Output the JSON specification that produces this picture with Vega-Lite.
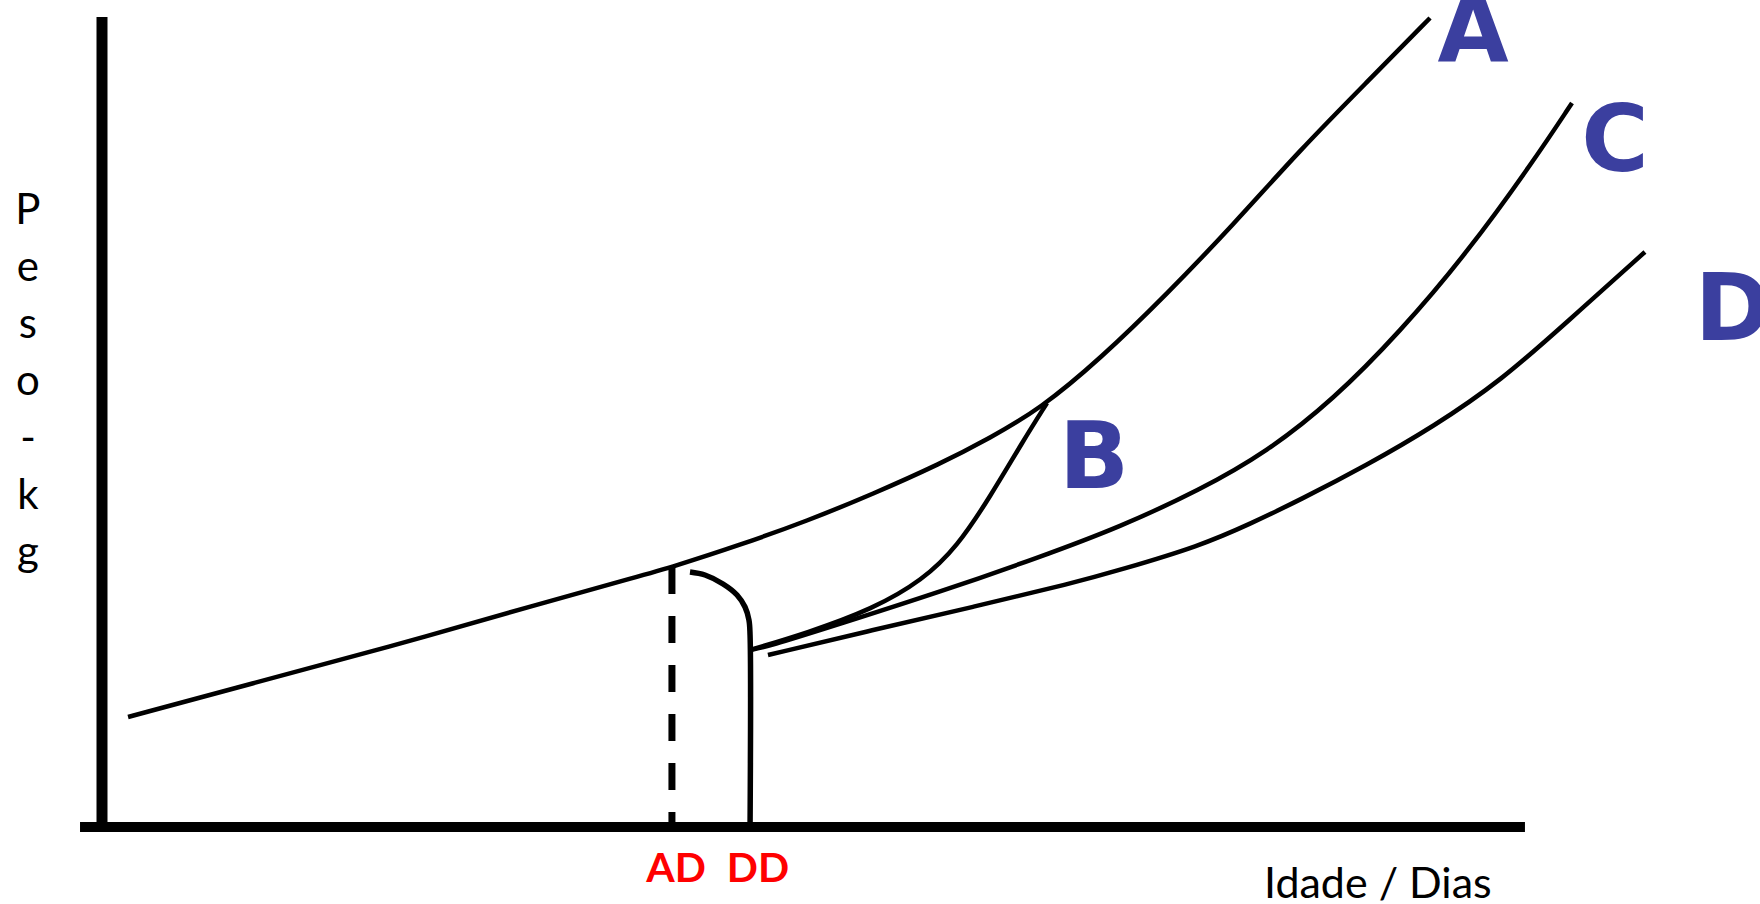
{
  "$schema": "https://vega.github.io/schema/vega-lite/v6.json",
  "width": 1760,
  "height": 904,
  "autosize": {"type": "none"},
  "padding": 0,
  "background": "white",
  "config": {"view": {"stroke": null}},
  "datasets": {
    "curves": [
      {"serie": "A", "i": 1, "idade": 1.86, "peso": 13.75},
      {"serie": "A", "i": 2, "idade": 10.57, "peso": 17.88},
      {"serie": "A", "i": 3, "idade": 20.29, "peso": 22.38},
      {"serie": "A", "i": 4, "idade": 31.21, "peso": 27.88},
      {"serie": "A", "i": 5, "idade": 38.43, "peso": 31.38},
      {"serie": "A", "i": 6, "idade": 40.71, "peso": 32.5},
      {"serie": "A", "i": 7, "idade": 45.57, "peso": 35.25},
      {"serie": "A", "i": 8, "idade": 50.36, "peso": 38.25},
      {"serie": "A", "i": 9, "idade": 55.07, "peso": 41.63},
      {"serie": "A", "i": 10, "idade": 59.86, "peso": 45.38},
      {"serie": "A", "i": 11, "idade": 63.43, "peso": 48.63},
      {"serie": "A", "i": 12, "idade": 67.0, "peso": 52.25},
      {"serie": "A", "i": 13, "idade": 71.29, "peso": 58.5},
      {"serie": "A", "i": 14, "idade": 76.07, "peso": 66.63},
      {"serie": "A", "i": 15, "idade": 80.79, "peso": 75.25},
      {"serie": "A", "i": 16, "idade": 85.57, "peso": 84.63},
      {"serie": "A", "i": 17, "idade": 90.36, "peso": 93.13},
      {"serie": "A", "i": 18, "idade": 94.86, "peso": 101.13},
      {"serie": "B", "i": 1, "idade": 46.29, "peso": 22.13},
      {"serie": "B", "i": 2, "idade": 50.36, "peso": 24.25},
      {"serie": "B", "i": 3, "idade": 55.07, "peso": 27.25},
      {"serie": "B", "i": 4, "idade": 58.64, "peso": 30.88},
      {"serie": "B", "i": 5, "idade": 61.07, "peso": 35.0},
      {"serie": "B", "i": 6, "idade": 63.43, "peso": 41.25},
      {"serie": "B", "i": 7, "idade": 65.79, "peso": 48.25},
      {"serie": "B", "i": 8, "idade": 67.5, "peso": 53.0},
      {"serie": "C", "i": 1, "idade": 46.29, "peso": 22.13},
      {"serie": "C", "i": 2, "idade": 47.5, "peso": 22.5},
      {"serie": "C", "i": 3, "idade": 52.71, "peso": 25.38},
      {"serie": "C", "i": 4, "idade": 59.86, "peso": 29.38},
      {"serie": "C", "i": 5, "idade": 67.0, "peso": 33.75},
      {"serie": "C", "i": 6, "idade": 72.71, "peso": 37.5},
      {"serie": "C", "i": 7, "idade": 78.43, "peso": 42.13},
      {"serie": "C", "i": 8, "idade": 83.21, "peso": 46.88},
      {"serie": "C", "i": 9, "idade": 87.93, "peso": 53.38},
      {"serie": "C", "i": 10, "idade": 92.71, "peso": 61.88},
      {"serie": "C", "i": 11, "idade": 97.5, "peso": 71.75},
      {"serie": "C", "i": 12, "idade": 102.21, "peso": 83.13},
      {"serie": "C", "i": 13, "idade": 105.0, "peso": 90.5},
      {"serie": "D", "i": 1, "idade": 47.57, "peso": 21.5},
      {"serie": "D", "i": 2, "idade": 55.07, "peso": 24.63},
      {"serie": "D", "i": 3, "idade": 62.21, "peso": 27.5},
      {"serie": "D", "i": 4, "idade": 69.36, "peso": 30.5},
      {"serie": "D", "i": 5, "idade": 72.71, "peso": 32.13},
      {"serie": "D", "i": 6, "idade": 78.43, "peso": 35.13},
      {"serie": "D", "i": 7, "idade": 82.0, "peso": 37.88},
      {"serie": "D", "i": 8, "idade": 85.57, "peso": 40.88},
      {"serie": "D", "i": 9, "idade": 90.36, "peso": 45.25},
      {"serie": "D", "i": 10, "idade": 95.07, "peso": 50.0},
      {"serie": "D", "i": 11, "idade": 100.0, "peso": 55.88},
      {"serie": "D", "i": 12, "idade": 104.64, "peso": 63.13},
      {"serie": "D", "i": 13, "idade": 110.21, "peso": 71.88}
    ],
    "dd": [
      {"i": 1, "idade": 42.0, "peso": 31.88},
      {"i": 2, "idade": 43.07, "peso": 31.5},
      {"i": 3, "idade": 44.36, "peso": 30.38},
      {"i": 4, "idade": 45.36, "peso": 29.0},
      {"i": 5, "idade": 45.93, "peso": 27.5},
      {"i": 6, "idade": 46.21, "peso": 25.88},
      {"i": 7, "idade": 46.29, "peso": 24.0},
      {"i": 8, "idade": 46.29, "peso": 0}
    ],
    "eixos": [
      {"eixo": "x", "x1": -1.57, "x2": 101.64, "y1": 0, "y2": 0},
      {"eixo": "y", "x1": 0, "x2": 0, "y1": 101.25, "y2": -0.63}
    ],
    "marcos": [
      {"nome": "AD", "idade": 40.71, "peso": 32.5, "base": 0}
    ],
    "curvas_rotulos": [
      {"rotulo": "A", "idade": 97.93, "peso": 95.75},
      {"rotulo": "B", "idade": 70.86, "peso": 42.38},
      {"rotulo": "C", "idade": 108.07, "peso": 82.0},
      {"rotulo": "D", "idade": 116.5, "peso": 60.88}
    ],
    "marcos_rotulos": [
      {"rotulo": "AD", "idade": 41.0, "peso": -6.88},
      {"rotulo": "DD", "idade": 46.86, "peso": -6.88}
    ],
    "titulos": [
      {"titulo": "Idade / Dias", "eixo": "x", "idade": 83.0, "peso": -8.88},
      {"titulo": "P\ne\ns\no\n-\nk\ng", "eixo": "y", "idade": -5.29, "peso": 75.38}
    ]
  },
  "encoding": {
    "x": {"type": "quantitative", "scale": {"domain": [-7.2857, 118.4286], "nice": false, "zero": false}, "axis": null},
    "y": {"type": "quantitative", "scale": {"domain": [-9.625, 103.375], "nice": false, "zero": false}, "axis": null}
  },
  "layer": [
    {
      "data": {"name": "eixos"},
      "transform": [{"filter": "datum.eixo === 'x'"}],
      "mark": {"type": "rule", "color": "black", "strokeWidth": 10},
      "encoding": {
        "x": {"field": "x1", "type": "quantitative"},
        "x2": {"field": "x2"},
        "y": {"field": "y1", "type": "quantitative"},
        "y2": {"field": "y2"}
      }
    },
    {
      "data": {"name": "eixos"},
      "transform": [{"filter": "datum.eixo === 'y'"}],
      "mark": {"type": "rule", "color": "black", "strokeWidth": 11},
      "encoding": {
        "x": {"field": "x1", "type": "quantitative"},
        "x2": {"field": "x2"},
        "y": {"field": "y1", "type": "quantitative"},
        "y2": {"field": "y2"}
      }
    },
    {
      "data": {"name": "marcos"},
      "mark": {"type": "rule", "color": "black", "strokeWidth": 7, "strokeDash": [27, 22]},
      "encoding": {
        "x": {"field": "idade", "type": "quantitative"},
        "y": {"field": "peso", "type": "quantitative"},
        "y2": {"field": "base"}
      }
    },
    {
      "data": {"name": "curves"},
      "mark": {"type": "line", "color": "black", "strokeWidth": 4.5, "interpolate": "basis"},
      "encoding": {
        "x": {"field": "idade", "type": "quantitative"},
        "y": {"field": "peso", "type": "quantitative"},
        "detail": {"field": "serie"},
        "order": {"field": "i"}
      }
    },
    {
      "data": {"name": "dd"},
      "mark": {"type": "line", "color": "black", "strokeWidth": 5.5, "interpolate": "catmull-rom"},
      "encoding": {
        "x": {"field": "idade", "type": "quantitative"},
        "y": {"field": "peso", "type": "quantitative"},
        "order": {"field": "i"}
      }
    },
    {
      "data": {"name": "curvas_rotulos"},
      "mark": {"type": "text", "font": "DejaVu Sans", "fontWeight": "bold", "fontSize": 92, "color": "#3b3f9f", "align": "center", "baseline": "alphabetic"},
      "encoding": {
        "x": {"field": "idade", "type": "quantitative"},
        "y": {"field": "peso", "type": "quantitative"},
        "text": {"field": "rotulo"}
      }
    },
    {
      "data": {"name": "marcos_rotulos"},
      "mark": {"type": "text", "font": "Lato", "fontWeight": "bold", "fontSize": 41, "color": "#ff0000", "align": "center", "baseline": "alphabetic"},
      "encoding": {
        "x": {"field": "idade", "type": "quantitative"},
        "y": {"field": "peso", "type": "quantitative"},
        "text": {"field": "rotulo"}
      }
    },
    {
      "data": {"name": "titulos"},
      "transform": [{"filter": "datum.eixo === 'x'"}],
      "mark": {"type": "text", "font": "Lato", "fontSize": 43, "color": "black", "align": "left", "baseline": "alphabetic"},
      "encoding": {
        "x": {"field": "idade", "type": "quantitative"},
        "y": {"field": "peso", "type": "quantitative"},
        "text": {"field": "titulo"}
      }
    },
    {
      "data": {"name": "titulos"},
      "transform": [{"filter": "datum.eixo === 'y'"}],
      "mark": {"type": "text", "font": "Lato", "fontSize": 42, "color": "black", "align": "center", "baseline": "alphabetic", "lineBreak": "\n", "lineHeight": 57},
      "encoding": {
        "x": {"field": "idade", "type": "quantitative"},
        "y": {"field": "peso", "type": "quantitative"},
        "text": {"field": "titulo"}
      }
    }
  ]
}
